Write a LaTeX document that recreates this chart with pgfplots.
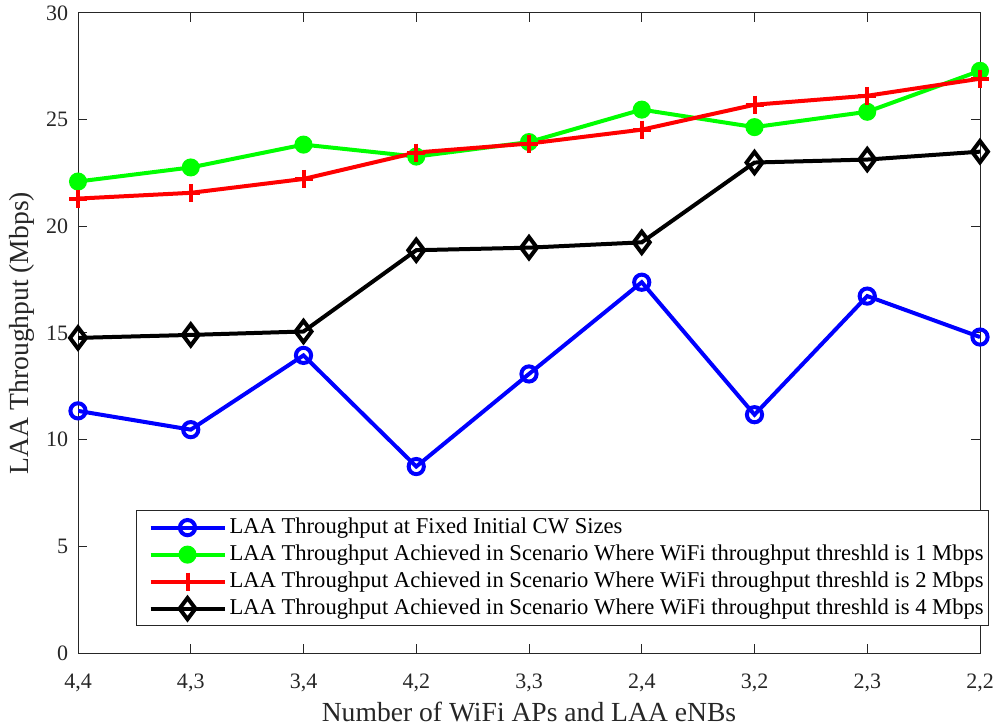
\documentclass[border=0pt]{standalone}
\usepackage{pgfplots}
\pgfplotsset{compat=1.18}
\usepackage{fontspec}
\setmainfont{Liberation Serif}
\definecolor{axgray}{rgb}{0.15,0.15,0.15}
\definecolor{mblue}{rgb}{0,0,1}
\definecolor{mgreen}{rgb}{0,1,0}
\definecolor{mred}{rgb}{1,0,0}

\begin{document}
\begin{tikzpicture}
\begin{axis}[
  scale only axis,
  width=451pt, height=320pt,
  xmin=0, xmax=8, ymin=0, ymax=30,
  xtick={0,...,8},
  xticklabels={{4,4},{4,3},{3,4},{4,2},{3,3},{2,4},{3,2},{2,3},{2,2}},
  ytick={0,5,...,30},
  tick align=inside,
  major tick length=4.5pt,
  axis line style={axgray, line width=0.5pt},
  every tick/.style={axgray, line width=0.5pt},
  tick label style={font=\fontsize{11}{13}\selectfont, text=axgray},
  xticklabel style={yshift=-7pt},
  yticklabel style={xshift=-1.4pt},
  /pgf/number format/assume math mode=true,
  xlabel={Number of WiFi APs and LAA eNBs},
  ylabel={LAA Throughput (Mbps)},
  label style={font=\fontsize{13.8}{16}\selectfont, text=axgray},
  xlabel style={at={(axis description cs:0.5,-0.092)}, anchor=center},
  ylabel style={at={(axis description cs:-0.062,0.5)}, anchor=center},
  legend style={at={(0.0643,0.042)}, anchor=south west,
    font=\fontsize{11.3}{13.5}\selectfont, draw=axgray, line width=0.5pt,
    row sep=0pt, inner xsep=1pt, inner ysep=1.75pt,
    nodes={inner xsep=1.5pt, inner ysep=1.5pt, text height=8pt, text depth=2.5pt},
    cells={anchor=west}},
  legend image code/.code={
    \path (-5pt,0pt);
    \draw[#1, mark repeat=2, mark phase=2] plot coordinates {(0pt,0pt) (18.5pt,0pt) (37pt,0pt)};
  },
]
\addplot[mblue, line width=2pt, mark=o, mark size=3.8pt, mark options={line width=2pt}]
  coordinates {(0,11.35) (1,10.47) (2,13.95) (3,8.74) (4,13.08) (5,17.38) (6,11.17) (7,16.73) (8,14.81)};
\addlegendentry{LAA Throughput at Fixed Initial CW Sizes}
\addplot[mgreen, line width=2pt, mark=*, mark size=3.5pt, mark options={fill=mgreen, draw=mgreen}]
  coordinates {(0,22.1) (1,22.76) (2,23.83) (3,23.27) (4,23.95) (5,25.47) (6,24.65) (7,25.37) (8,27.29)};
\addlegendentry{LAA Throughput Achieved in Scenario Where WiFi throughput threshld is 1 Mbps}
\addplot[mred, line width=2pt, mark=+, mark size=4.5pt, mark options={line width=2pt}]
  coordinates {(0,21.3) (1,21.57) (2,22.22) (3,23.46) (4,23.88) (5,24.53) (6,25.7) (7,26.12) (8,26.92)};
\addlegendentry{LAA Throughput Achieved in Scenario Where WiFi throughput threshld is 2 Mbps}
\addplot[black, line width=2pt, mark=diamond, mark size=5.3pt, mark options={line width=2pt}]
  coordinates {(0,14.77) (1,14.91) (2,15.07) (3,18.88) (4,19.0) (5,19.25) (6,22.99) (7,23.13) (8,23.5)};
\addlegendentry{LAA Throughput Achieved in Scenario Where WiFi throughput threshld is 4 Mbps}
\coordinate (bl) at (rel axis cs:0,0);
\coordinate (tr) at (rel axis cs:1,1);
\end{axis}
% page frame around the axis box and its labels
\pgfresetboundingbox
\path[use as bounding box] ([xshift=-39pt,yshift=-37pt]bl) rectangle ([xshift=8.5pt,yshift=6.5pt]tr);
\end{tikzpicture}
\end{document}
